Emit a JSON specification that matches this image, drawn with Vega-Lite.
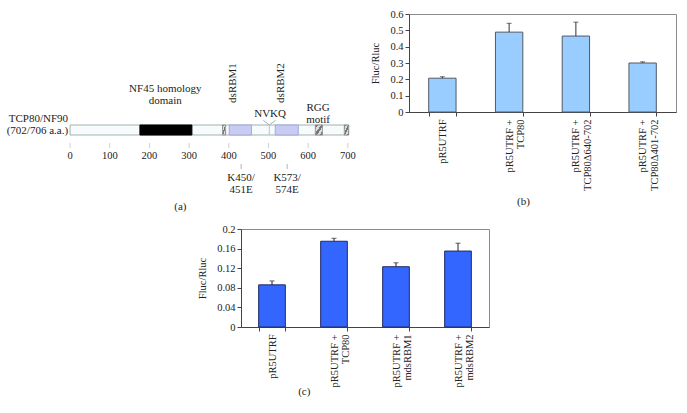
{
  "$schema": "https://vega.github.io/schema/vega-lite/v6.json",
  "padding": {"left": 5, "top": 8, "right": 0, "bottom": 0},
  "background": "white",
  "config": {
    "font": "Liberation Serif, Times New Roman, Times, serif",
    "view": {"stroke": "#8c8c8c"},
    "axis": {"labelFont": "Liberation Serif, Times New Roman, Times, serif", "titleFont": "Liberation Serif, Times New Roman, Times, serif", "labelFontSize": 10.5, "titleFontSize": 10.5, "titleFontWeight": "normal", "labelColor": "#222222", "titleColor": "#222222", "domainColor": "#444444", "tickColor": "#444444", "grid": false},
    "text": {"font": "Liberation Serif, Times New Roman, Times, serif"},
    "title": {"font": "Liberation Serif, Times New Roman, Times, serif", "fontSize": 11, "fontWeight": "normal", "orient": "bottom", "frame": "bounds", "color": "#222222"}
  },
  "datasets": {
    "domains": [
      {"start": 0, "end": 702, "part": "chain"},
      {"start": 176, "end": 307, "part": "NF45"},
      {"start": 401, "end": 457, "part": "dsRBM"},
      {"start": 517, "end": 575, "part": "dsRBM"}
    ],
    "hatched": [
      {"start": 384, "end": 392},
      {"start": 618, "end": 636},
      {"start": 691, "end": 702}
    ],
    "insertion": [{"aa": 502}],
    "vshape": [
      {"aa": 487, "h": 9.7},
      {"aa": 502, "h": 5},
      {"aa": 518, "h": 9.7}
    ],
    "ticks": [
      {"aa": 0}, {"aa": 100}, {"aa": 200}, {"aa": 300}, {"aa": 400}, {"aa": 500}, {"aa": 600}, {"aa": 700}
    ],
    "mutations": [{"aa": 431}, {"aa": 547}],
    "labels": [
      {"aa": 240, "h": 41, "text": "NF45 homology\ndomain"},
      {"aa": 504, "h": 16, "text": "NVKQ"},
      {"aa": 625, "h": 22, "text": "RGG\nmotif"},
      {"aa": 431, "h": -48, "text": "K450/\n451E"},
      {"aa": 547, "h": -48, "text": "K573/\n574E"}
    ],
    "leftlabels": [
      {"aa": -5, "h": 11, "text": "TCP80/NF90\n(702/706 a.a.)"}
    ],
    "vlabels": [
      {"aa": 411, "h": 47, "text": "dsRBM1"},
      {"aa": 531, "h": 47, "text": "dsRBM2"}
    ],
    "b": [
      {"cat": "pR5UTRF", "mean": 0.207, "upper": 0.216},
      {"cat": "pR5UTRF +|TCP80", "mean": 0.489, "upper": 0.543},
      {"cat": "pR5UTRF +|TCP80Δ640-702", "mean": 0.465, "upper": 0.55},
      {"cat": "pR5UTRF +|TCP80Δ401-702", "mean": 0.3, "upper": 0.307}
    ],
    "c": [
      {"cat": "pR5UTRF", "mean": 0.086, "upper": 0.094},
      {"cat": "pR5UTRF +|TCP80", "mean": 0.175, "upper": 0.181},
      {"cat": "pR5UTRF +|mdsRBM1", "mean": 0.123, "upper": 0.131},
      {"cat": "pR5UTRF +|mdsRBM2", "mean": 0.155, "upper": 0.171}
    ]
  },
  "spacing": 11,
  "vconcat": [
    {
      "spacing": 14,
      "hconcat": [
        {
          "width": 350,
          "height": 185,
          "view": {"stroke": null},
          "title": {"text": "(a)", "offset": 2},
          "layer": [
            {
              "data": {"name": "domains"},
              "mark": {"type": "rect", "strokeWidth": 1},
              "encoding": {
                "x": {"field": "start", "type": "quantitative", "scale": {"domain": [-164, 718], "nice": false, "zero": false}, "axis": null},
                "x2": {"field": "end"},
                "y": {"datum": -5, "type": "quantitative", "scale": {"domain": [-69, 116], "nice": false, "zero": false}, "axis": null},
                "y2": {"datum": 5},
                "fill": {"field": "part", "type": "nominal", "scale": {"domain": ["chain", "NF45", "dsRBM"], "range": ["#f7fbfb", "#000000", "#c9ccf2"]}, "legend": null},
                "stroke": {"field": "part", "type": "nominal", "scale": {"domain": ["chain", "NF45", "dsRBM"], "range": ["#9fb3b3", "#000000", "#a3a8dc"]}, "legend": null}
              }
            },
            {
              "data": {"name": "hatched"},
              "mark": {"type": "rect", "stroke": "#8a8a8a", "strokeWidth": 0.8, "fill": {"gradient": "linear", "x1": 0, "y1": 0, "x2": 1, "y2": 1, "stops": [
                {"offset": 0, "color": "#777777"}, {"offset": 0.2, "color": "#777777"}, {"offset": 0.2, "color": "#dddddd"}, {"offset": 0.4, "color": "#dddddd"},
                {"offset": 0.4, "color": "#777777"}, {"offset": 0.6, "color": "#777777"}, {"offset": 0.6, "color": "#dddddd"}, {"offset": 0.8, "color": "#dddddd"},
                {"offset": 0.8, "color": "#777777"}, {"offset": 1, "color": "#777777"}]}},
              "encoding": {
                "x": {"field": "start", "type": "quantitative"},
                "x2": {"field": "end"},
                "y": {"datum": -5, "type": "quantitative"},
                "y2": {"datum": 5}
              }
            },
            {
              "data": {"name": "insertion"},
              "mark": {"type": "rule", "color": "#b5c6c6", "strokeWidth": 1},
              "encoding": {
                "x": {"field": "aa", "type": "quantitative"},
                "y": {"datum": -5, "type": "quantitative"},
                "y2": {"datum": 5}
              }
            },
            {
              "data": {"name": "vshape"},
              "mark": {"type": "line", "color": "#9fb3b3", "strokeWidth": 1},
              "encoding": {
                "x": {"field": "aa", "type": "quantitative"},
                "y": {"field": "h", "type": "quantitative"}
              }
            },
            {
              "data": {"name": "ticks"},
              "mark": {"type": "rule", "color": "#c9d3d3", "strokeWidth": 1},
              "encoding": {
                "x": {"field": "aa", "type": "quantitative"},
                "y": {"datum": -13, "type": "quantitative"},
                "y2": {"datum": -18}
              }
            },
            {
              "data": {"name": "ticks"},
              "mark": {"type": "text", "fontSize": 10.5, "color": "#222222", "baseline": "middle"},
              "encoding": {
                "x": {"field": "aa", "type": "quantitative"},
                "y": {"datum": -26, "type": "quantitative"},
                "text": {"field": "aa", "type": "quantitative"}
              }
            },
            {
              "data": {"name": "mutations"},
              "mark": {"type": "rule", "color": "#a9b9b9", "strokeWidth": 1},
              "encoding": {
                "x": {"field": "aa", "type": "quantitative"},
                "y": {"datum": -34, "type": "quantitative"},
                "y2": {"datum": -39}
              }
            },
            {
              "data": {"name": "labels"},
              "mark": {"type": "text", "fontSize": 11, "color": "#222222", "baseline": "middle", "align": "center", "lineBreak": "\n", "lineHeight": 11.5},
              "encoding": {
                "x": {"field": "aa", "type": "quantitative"},
                "y": {"field": "h", "type": "quantitative"},
                "text": {"field": "text"}
              }
            },
            {
              "data": {"name": "leftlabels"},
              "mark": {"type": "text", "fontSize": 11, "color": "#222222", "baseline": "middle", "align": "right", "lineBreak": "\n", "lineHeight": 12},
              "encoding": {
                "x": {"field": "aa", "type": "quantitative"},
                "y": {"field": "h", "type": "quantitative"},
                "text": {"field": "text"}
              }
            },
            {
              "data": {"name": "vlabels"},
              "mark": {"type": "text", "fontSize": 11, "color": "#222222", "baseline": "middle", "align": "center", "angle": 270},
              "encoding": {
                "x": {"field": "aa", "type": "quantitative"},
                "y": {"field": "h", "type": "quantitative"},
                "text": {"field": "text"}
              }
            }
          ]
        },
        {
          "width": 267,
          "height": 98,
          "title": {"text": "(b)", "offset": 5},
          "data": {"name": "b"},
          "encoding": {
            "x": {"field": "cat", "type": "nominal", "sort": null, "scale": {"paddingInner": 0.59, "paddingOuter": 0.295},
              "axis": {"title": null, "labelAngle": 270, "tickBand": "extent", "labelExpr": "split(datum.label, '|')", "tickSize": 4, "labelPadding": 3, "labelLineHeight": 11.5, "labelOverlap": false, "labelLimit": 300}}
          },
          "layer": [
            {
              "mark": {"type": "bar", "fill": "#99ccff", "stroke": "#505a66", "strokeWidth": 1},
              "encoding": {
                "y": {"field": "mean", "type": "quantitative", "scale": {"domain": [0, 0.6]},
                  "axis": {"title": "Fluc/Rluc", "values": [0, 0.1, 0.2, 0.3, 0.4, 0.5, 0.6], "tickCount": 20, "format": "~g", "tickSize": 4, "labelPadding": 2, "titlePadding": 9, "labelOverlap": false, "labelFlush": false}}
              }
            },
            {
              "mark": {"type": "rule", "color": "#333333"},
              "encoding": {"y": {"field": "mean", "type": "quantitative"}, "y2": {"field": "upper"}}
            },
            {
              "mark": {"type": "tick", "size": 5, "thickness": 1, "color": "#333333"},
              "encoding": {"y": {"field": "upper", "type": "quantitative"}}
            }
          ]
        }
      ]
    },
    {
      "spacing": 0,
      "hconcat": [
        {
          "width": 192,
          "height": 1,
          "view": {"stroke": null},
          "data": {"values": []},
          "mark": {"type": "text"},
          "encoding": {}
        },
        {
          "width": 248,
          "height": 98,
          "title": {"text": "(c)", "offset": -1, "dx": -39},
          "data": {"name": "c"},
          "encoding": {
            "x": {"field": "cat", "type": "nominal", "sort": null, "scale": {"paddingInner": 0.57, "paddingOuter": 0.285},
              "axis": {"title": null, "labelAngle": 270, "tickBand": "extent", "labelExpr": "split(datum.label, '|')", "tickSize": 4, "labelPadding": 3, "labelLineHeight": 11.5, "labelOverlap": false, "labelLimit": 300}}
          },
          "layer": [
            {
              "mark": {"type": "bar", "fill": "#3366ff", "stroke": "#1f2a66", "strokeWidth": 1},
              "encoding": {
                "y": {"field": "mean", "type": "quantitative", "scale": {"domain": [0, 0.2]},
                  "axis": {"title": "Fluc/Rluc", "values": [0, 0.04, 0.08, 0.12, 0.16, 0.2], "tickCount": 20, "format": "~g", "tickSize": 4, "labelPadding": 2, "titlePadding": 9, "labelOverlap": false, "labelFlush": false}}
              }
            },
            {
              "mark": {"type": "rule", "color": "#222222"},
              "encoding": {"y": {"field": "mean", "type": "quantitative"}, "y2": {"field": "upper"}}
            },
            {
              "mark": {"type": "tick", "size": 5, "thickness": 1, "color": "#222222"},
              "encoding": {"y": {"field": "upper", "type": "quantitative"}}
            }
          ]
        }
      ]
    }
  ]
}
